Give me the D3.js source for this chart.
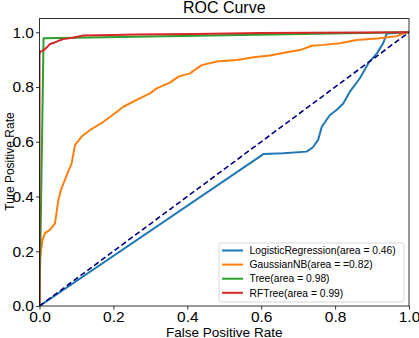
<!DOCTYPE html>
<html><head><meta charset="utf-8">
<script src="https://cdn.jsdelivr.net/npm/d3@7"></script>
<style>body{margin:0;background:#fff}svg{display:block}text{font-family:"Liberation Sans",Arial,sans-serif;fill:#000}</style>
</head><body><svg id="c" width="419" height="338"></svg>
<script>
const title = "ROC Curve";
const xLabel = "False Positive Rate";
const yLabel = "Ture Positive Rate";
const xTicks = [0, 0.2, 0.4, 0.6, 0.8, 1.0];
const yTicks = [0, 0.2, 0.4, 0.6, 0.8, 1.0];
const seriesNames = ["LogisticRegression(area = 0.46)", "GaussianNB(area = =0.82)", "Tree(area = 0.98)", "RFTree(area = 0.99)"];
const seriesColors = ["#1f77b4", "#ff7f0e", "#2ca02c", "#d62728"];

const lrFpr = [0, 0.606, 0.66, 0.723, 0.74, 0.754, 0.764, 0.786, 0.804, 0.822, 0.84, 0.867, 0.89, 0.913, 0.93, 0.94, 1];
const lrTpr = [0, 0.555, 0.558, 0.564, 0.58, 0.607, 0.655, 0.698, 0.716, 0.740, 0.783, 0.832, 0.887, 0.923, 0.96, 0.996, 1];

const nbFpr = [0, 0, 0.004, 0.008, 0.015, 0.028, 0.042, 0.046, 0.051, 0.058, 0.066, 0.074, 0.087, 0.096, 0.114, 0.137, 0.173, 0.204, 0.227, 0.263, 0.299, 0.317, 0.353, 0.376, 0.407, 0.439, 0.480, 0.534, 0.579, 0.624, 0.669, 0.705, 0.737, 0.768, 0.813, 0.858, 0.921, 0.967, 0.994, 1];
const nbTpr = [0, 0.157, 0.205, 0.241, 0.266, 0.278, 0.302, 0.339, 0.387, 0.424, 0.452, 0.479, 0.521, 0.588, 0.619, 0.643, 0.673, 0.704, 0.728, 0.753, 0.777, 0.795, 0.816, 0.838, 0.850, 0.880, 0.893, 0.899, 0.909, 0.915, 0.927, 0.935, 0.951, 0.954, 0.960, 0.972, 0.978, 0.986, 1.0, 1];

const treeFpr = [0, 0.011, 1];
const treeTpr = [0, 0.978, 1];

const rfFpr = [0, 0, 0.003, 0.012, 0.02, 0.028, 0.04, 0.05, 0.064, 0.09, 0.118, 0.2, 0.26, 0.42, 0.6, 1];
const rfTpr = [0, 0.92, 0.93, 0.935, 0.945, 0.957, 0.962, 0.968, 0.975, 0.98, 0.988, 0.99, 0.992, 0.994, 0.997, 1];

const diagX = [0, 1];
const diagY = [0, 1];

const svg = d3.select("#c");
const L = 39.5, R = 409, T = 18.6, B = 306;
const x = d3.scaleLinear().domain([0, 1]).range([L, R]);
const y = d3.scaleLinear().domain([0, 1.05]).range([B, T]);

const line = d3.line().x(d => x(d[0])).y(d => y(d[1]));
const series = [[lrFpr, lrTpr], [nbFpr, nbTpr], [treeFpr, treeTpr], [rfFpr, rfTpr]];

svg.append("clipPath").attr("id", "pc").append("rect")
  .attr("x", L).attr("y", T).attr("width", R - L).attr("height", B - T);
const plot = svg.append("g").attr("clip-path", "url(#pc)");
series.forEach((s, i) => {
  plot.append("path").datum(d3.zip(s[0], s[1]))
    .attr("d", line).attr("fill", "none")
    .attr("stroke", seriesColors[i]).attr("stroke-width", 2)
    .attr("stroke-linejoin", "round");
});
plot.append("path").datum(d3.zip(diagX, diagY)).attr("d", line)
  .attr("fill", "none").attr("stroke", "navy").attr("stroke-width", 1.6)
  .attr("stroke-dasharray", "5.5,3");

// axes
const xAxis = d3.axisBottom(x).tickValues(xTicks).tickFormat(d3.format(".1f")).tickSize(3.5).tickPadding(1);
const yAxis = d3.axisLeft(y).tickValues(yTicks).tickFormat(d3.format(".1f")).tickSize(3.5).tickPadding(2);
const gx = svg.append("g").attr("transform", `translate(0,${B})`).call(xAxis);
const gy = svg.append("g").attr("transform", `translate(${L},0)`).call(yAxis);
[gx, gy].forEach(g => {
  g.select(".domain").remove();
  g.selectAll("line").attr("stroke", "#000").attr("stroke-width", 0.8);
  g.selectAll("text").attr("font-size", 15.5).attr("font-family", "Liberation Sans, Arial, sans-serif").attr("fill", "#000");
});
gx.selectAll("text").attr("dy", "0.75em");

// frame
svg.append("rect").attr("x", L).attr("y", T).attr("width", R - L).attr("height", B - T)
  .attr("fill", "none").attr("stroke", "#000").attr("stroke-width", 0.8);

// labels
svg.append("text").attr("x", (L + R) / 2).attr("y", 13).attr("text-anchor", "middle")
  .attr("font-size", 16).text(title);
svg.append("text").attr("x", (L + R) / 2).attr("y", 336.5).attr("text-anchor", "middle")
  .attr("font-size", 13.5).text(xLabel);
svg.append("text").attr("transform", `translate(13.5,${161.5}) rotate(-90)`).attr("text-anchor", "middle")
  .attr("font-size", 12).text(yLabel);

// legend
const lg = svg.append("g");
lg.append("rect").attr("x", 219).attr("y", 243).attr("width", 185).attr("height", 59)
  .attr("rx", 2.5).attr("fill", "#fff").attr("fill-opacity", 0.8).attr("stroke", "#ccc").attr("stroke-width", 0.8);
seriesNames.forEach((n, i) => {
  const yy = 250.5 + i * 14.1;
  lg.append("line").attr("x1", 222).attr("x2", 243).attr("y1", yy).attr("y2", yy)
    .attr("stroke", seriesColors[i]).attr("stroke-width", 2);
  lg.append("text").attr("x", 249.5).attr("y", yy).attr("dy", "0.36em")
    .attr("font-size", 10.3).text(n);
});
</script></body></html>
